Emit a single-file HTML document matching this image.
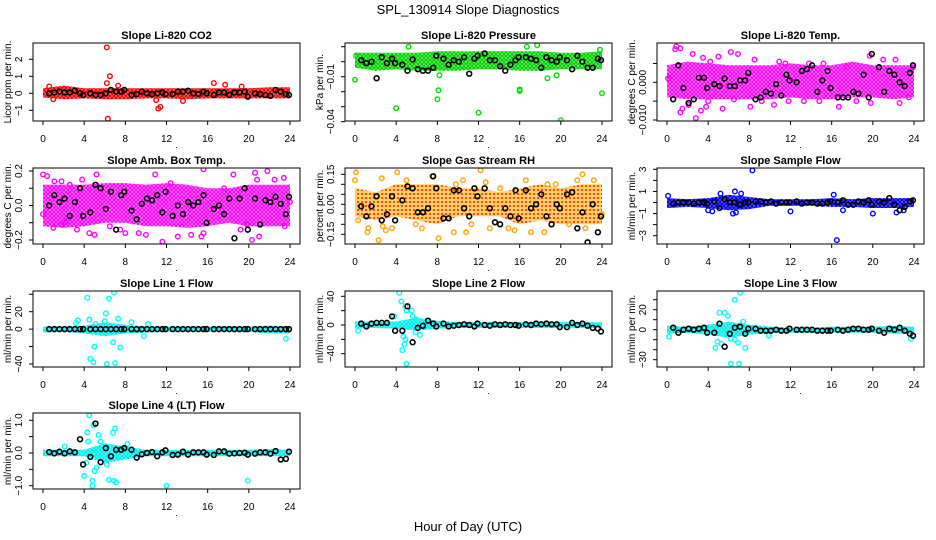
<!DOCTYPE html>
<html><head><meta charset="utf-8">
<style>
html,body{margin:0;padding:0;background:#fff;}
svg{display:block;font-family:"Liberation Sans",Arial,sans-serif;}
</style></head>
<body>
<svg id="chart" width="936" height="540" viewBox="0 0 936 540">
<defs>
<pattern id="pat-red" width="4" height="4" patternUnits="userSpaceOnUse"><rect width="4" height="4" fill="#ff0000" opacity="0.55"/><circle cx="2" cy="2" r="1.5" fill="none" stroke="#ff0000" stroke-width="1.1"/></pattern>
<pattern id="pat-green" width="4" height="4" patternUnits="userSpaceOnUse"><rect width="4" height="4" fill="#00ee00" opacity="0.5"/><circle cx="2" cy="2" r="1.5" fill="none" stroke="#00cc00" stroke-width="1.1"/></pattern>
<pattern id="pat-magenta" width="4" height="4" patternUnits="userSpaceOnUse"><rect width="4" height="4" fill="#ff00ff" opacity="0.35"/><circle cx="2" cy="2" r="1.5" fill="none" stroke="#ff00ff" stroke-width="1.2"/></pattern>
<pattern id="pat-orange" width="4" height="4" patternUnits="userSpaceOnUse"><rect width="4" height="4" fill="#ffb000" opacity="0.6"/><circle cx="2" cy="2" r="1" fill="#ff2000"/></pattern>
<pattern id="pat-blue" width="4" height="4" patternUnits="userSpaceOnUse"><rect width="4" height="4" fill="#0000ff" opacity="0.6"/><circle cx="2" cy="2" r="1.5" fill="none" stroke="#0000ff" stroke-width="1.1"/></pattern>
<pattern id="pat-cyan" width="4" height="4" patternUnits="userSpaceOnUse"><rect width="4" height="4" fill="#00ffff" opacity="0.6"/><circle cx="2" cy="2" r="1.5" fill="none" stroke="#00eeee" stroke-width="1.1"/></pattern>
</defs>
<text x="468" y="14" text-anchor="middle" font-size="13">SPL_130914  Slope Diagnostics</text>
<text x="468" y="531" text-anchor="middle" font-size="13">Hour of Day (UTC)</text>
</svg>
<script>
const xTickVals = [0,4,8,12,16,20,24];
const xTickLabels = ['0','4','8','12','16','20','24'];
const blackHours = [0.6,1.1,1.6,2.1,2.6,3.1,3.6,3.9,4.6,5.1,5.6,6.1,6.6,7.1,7.6,7.9,8.6,9.1,9.6,10.1,10.6,11.1,11.6,11.9,12.6,13.1,13.6,14.1,14.6,15.1,15.6,15.9,16.6,17.1,17.6,18.1,18.6,19.1,19.6,19.9,20.6,21.1,21.6,22.1,22.6,23.1,23.6,23.9];
const bandHours = [0,2,4,6,8,10,12,14,16,18,20,22,24];

const co2Black = [0,0.05,0.1,0.05,0.05,0.15,0,-0.1,0,-0.1,-0.1,0,0.2,0.1,0.1,0.2,-0.1,-0.05,0.1,0,-0.05,0,0.05,-0.05,-0.05,0.1,0.1,0.15,0,-0.05,0.1,0,-0.1,0.05,0.05,-0.1,0.05,0.05,0.1,-0.2,0,-0.05,-0.1,-0.15,0.2,0.1,-0.05,-0.1];
const co2BandLo = [-0.25,-0.35,-0.3,-0.35,-0.35,-0.3,-0.3,-0.35,-0.3,-0.3,-0.3,-0.3,-0.3];
const co2BandHi = [0.3,0.45,0.3,0.3,0.3,0.3,0.3,0.3,0.3,0.3,0.3,0.35,0.35];
const co2OutX = [6.2,6.3,6.5,6.2,7.3,11.2,11.4,11.0,13.6,16.6,17.7,1.0,19.3,0.6];
const co2OutY = [2.7,-1.5,1.0,0.6,0.45,-0.9,-0.8,-0.4,-0.45,0.6,0.5,-0.35,0.4,0.4];

const presBlack = [0.001,-0.001,0,-0.011,0.003,-0.001,0.002,-0.001,-0.002,-0.006,0.0015,-0.005,-0.006,-0.006,-0.004,0.004,0.002,-0.002,0.001,0.0,0.003,-0.008,0.002,0.004,0.0055,0.001,0.001,-0.003,-0.006,-0.002,0.001,0.003,0.003,0.002,0.001,-0.004,0.003,0.001,0.0,0.003,0.001,-0.005,0.004,0.0,-0.004,-0.004,0.002,0.001];
const presBandLo = [-0.004,-0.006,-0.005,-0.006,-0.006,-0.006,-0.005,-0.005,-0.006,-0.006,-0.005,-0.005,-0.005];
const presBandHi = [0.006,0.006,0.006,0.006,0.007,0.007,0.007,0.007,0.007,0.007,0.006,0.006,0.007];
const presOutX = [0,4,5.2,8,8.1,12,16,16,17.7,18.7,20,24,19.6,8.2,0.1,16.7,23.8];
const presOutY = [-0.012,-0.031,0.01,-0.025,-0.019,-0.034,-0.0195,-0.0185,0.011,-0.011,-0.039,-0.021,-0.009,-0.009,0.004,0.01,0.008];

const tempBlack = [-0.0045,0.0045,-0.0015,-0.0055,-0.0045,0.0012,0.0012,-0.0015,-0.0005,-0.001,0.001,-0.001,-0.001,0.0005,0.0005,0.0025,-0.0045,-0.004,-0.0025,-0.003,-0.0005,-0.0035,0.002,0.0005,0.0,0.003,0.0035,0.0045,-0.0025,0.0005,0.003,-0.0015,-0.004,-0.004,-0.004,-0.0025,-0.003,0.002,-0.004,0.0075,0.004,-0.0025,0.003,0.002,0,-0.001,0.0025,0.0045];
const tempBandLo = [-0.004,-0.0045,-0.0045,-0.0045,-0.0045,-0.0045,-0.004,-0.0045,-0.0045,-0.004,-0.004,-0.0045,-0.004];
const tempBandHi = [0.0045,0.0055,0.005,0.0045,0.0045,0.0045,0.005,0.0045,0.0045,0.0055,0.0045,0.0045,0.0045];
const tempOutX = [0.9,0.8,1.3,2.5,3.5,5,6.9,6.2,4.2,1.3,1.5,2.8,3.3,3.8,5.4,4,8.1,9.2,10.4,11.8,13.3,14.8,16.7,18.4,19.8,22.6,19.7,22.2,23.9,11.5,13.8,8.5,15.2,0.1,23.5,10.9,17.5,21,2.1,6.5];
const tempOutY = [0.0095,0.0088,0.009,0.0075,0.0065,0.0068,0.0075,0.008,0.0055,-0.008,-0.007,-0.0095,-0.0075,-0.0065,-0.007,-0.005,-0.0065,-0.005,-0.006,-0.005,-0.005,-0.005,-0.0065,-0.005,-0.0055,-0.0055,0.007,0.006,0.004,0.005,0.005,0.006,0.005,0.001,-0.004,0.0055,0.004,0.006,-0.006,-0.0045];

const ambBlack = [0.0,0.06,0.02,0.04,-0.06,0.02,0.1,-0.06,-0.04,0.12,0.1,-0.02,0.08,-0.14,0.06,0.08,-0.03,-0.08,0.01,0.04,0.03,0.06,-0.04,0.08,-0.06,0.0,-0.05,0.02,0.0,0.02,0.06,-0.1,-0.02,0.0,-0.05,0.04,-0.19,0.04,0.1,-0.14,0.04,-0.11,0.03,0.02,0.05,0.01,-0.05,0.05];
const ambBandLo = [-0.12,-0.13,-0.12,-0.1,-0.1,-0.12,-0.12,-0.13,-0.12,-0.1,-0.12,-0.12,-0.12];
const ambBandHi = [0.12,0.12,0.12,0.13,0.13,0.12,0.13,0.12,0.1,0.1,0.12,0.12,0.12];
const ambOutX = [0,0.4,1.1,1.8,3.8,5.2,2.6,10.9,15.6,18.5,20.6,21.8,22.5,23.4,20.8,17.6,12.4,1,1.8,3.3,4.5,5.0,7.5,8,9.3,10,11.6,13.1,14.4,15.4,15.6,19.2,20.3,21,23.5,19.8,6.5,2.3,0,24];
const ambOutY = [0.18,0.17,0.14,0.14,0.15,0.18,0.12,0.18,0.21,0.18,0.19,0.2,0.15,0.16,0.15,0.1,0.13,-0.13,-0.11,-0.14,-0.16,-0.17,-0.14,-0.16,-0.16,-0.17,-0.21,-0.18,-0.17,-0.18,-0.16,-0.14,-0.2,-0.18,-0.12,-0.11,-0.12,-0.09,-0.05,0.02];

const rhBlack = [-0.01,-0.06,-0.01,0.04,-0.08,-0.05,0.04,-0.08,0.02,0.09,0.08,-0.04,-0.04,-0.02,0.14,0.08,-0.07,-0.07,0.07,0.07,-0.02,-0.06,0.08,0.04,0.08,-0.02,-0.09,-0.1,-0.02,-0.06,0.07,-0.07,0.07,-0.02,0.0,0.05,-0.06,-0.1,0.0,-0.02,0.05,0.06,-0.12,-0.04,-0.19,0.0,-0.14,-0.06];
const rhBandLo = [-0.06,-0.08,-0.06,-0.08,-0.1,-0.06,-0.06,-0.06,-0.1,-0.08,-0.1,-0.1,-0.1];
const rhBandHi = [0.08,0.06,0.1,0.1,0.1,0.08,0.08,0.06,0.08,0.1,0.08,0.1,0.1];
const rhOutX = [0.1,0,2.6,4.1,5.0,7.5,12.2,12.7,22.1,23.2,19.5,18.7,0.3,1.2,1.3,2.7,3.0,3.6,2.3,8.1,9.6,10.8,11.3,13.1,14.9,15.5,17.1,18.4,20.8,22.4,5.9,6.5,16.6,9.8,10.5,14.1,21.6,24];
const rhOutY = [0.16,0.12,0.13,0.16,0.12,0.14,0.17,0.11,0.15,0.12,0.1,0.1,-0.08,-0.14,-0.12,-0.11,-0.13,-0.12,-0.18,-0.17,-0.14,-0.14,-0.1,-0.12,-0.12,-0.13,-0.14,-0.14,-0.1,-0.12,-0.1,-0.12,0.12,0.1,0.12,0.08,0.12,-0.05];

const flowBlack = [-0.1,0,0,0,-0.1,0,0,-0.1,0.1,-0.5,0.3,0,0,-0.2,0,0,0.1,0.1,0,0.1,-0.1,0,0,0,0.1,-0.1,0,0,-0.1,-0.1,0,0.1,0,0.2,-0.2,-0.2,0.1,0,0.2,-0.2,0.1,0,0.4,-0.2,-0.7,-0.4,0.1,0.2];
const flowBandLo = [-0.5,-0.4,-0.5,-0.7,-0.6,-0.3,-0.3,-0.3,-0.4,-0.4,-0.5,-0.5,-0.4];
const flowBandHi = [0.4,0.3,0.4,0.7,0.5,0.3,0.3,0.3,0.4,0.3,0.4,0.4,0.4];
const flowOutX = [8.3,16.5,6.6,7.2,4,4.4,6.4,6.7,12,20,22.3,23,17.1,0.1,5.2,16.2];
const flowOutY = [2.9,-3.4,1.0,0.8,-0.7,-0.8,-1.0,-0.9,-0.8,-1.0,-0.9,-0.7,-0.7,0.6,0.8,0.7];

const l1Black = [0,0,0,0,0,0,0,0,0,0,0,0,0,0,0,0,0,0,0,0,0,0,0,0,0,0,0,0,0,0,0,0,0,0,0,0,0,0,0,0,0,0,0,0,0,0,0,0];
const l1BandLo = [-4,-3,-5,-8,-5,-4,-3,-3,-3,-3,-3,-5,-5];
const l1BandHi = [3,3,4,8,5,3,3,3,3,3,3,4,3];
const l1OutX = [4.3,4.5,5,4.6,4.9,6.1,6.4,6.9,6.2,7,6.8,7.5,7.3,6,5.1,3.4,3.2,23.6,9.8,8.6,10.2];
const l1OutY = [36,11,-20,-34,-38,18,35,42,-40,-39,-15,-21,12,9,6,10,7,-11,-8,8,6];

const l2Black = [2,-2,2,3,3,3,12,-8,-8,26,-24,-4,-1,6,2,-2,2,-2,-1,0,1,0,-2,2,0,-1,1,0,1,0,0,-1,1,0,2,1,2,1,1,-3,-3,3,0,2,-1,-4,-5,-9];
const l2BandLo = [-5,-4,-5,-8,-5,-4,-4,-4,-4,-4,-4,-4,-4];
const l2BandHi = [5,4,5,10,6,4,4,4,4,4,4,4,4];
const l2OutX = [4.3,4.5,4.9,5.0,5.5,4.7,4.9,4.6,4.8,5,5.9,6.3,5.6,5.9,0.3,3.8,5.2];
const l2OutY = [45,33,26,20,20,-16,-20,-35,-27,-54,-10,-14,12,8,-8,12,-2];

const l3Black = [2,-3,0,1,0,1,2,-3,-3,6,-17,-4,2,3,-4,1,1,-1,-1,-1,0,-1,-1,1,0,0,0,0,-1,-1,-1,-1,0,-1,0,1,1,0,0,1,-1,-3,1,0,2,-1,-4,-6];
const l3BandLo = [-4,-3,-5,-8,-5,-3,-3,-3,-3,-3,-3,-4,-4];
const l3BandHi = [4,3,5,8,5,3,2,2,3,3,3,4,3];
const l3OutX = [5.1,5.6,5.9,6.6,7.1,6.2,7.0,4.9,4.7,5.3,6.9,7.6,6.6,0.2,23.7,9.9,7.4,6.2];
const l3OutY = [17,17,14,30,37,-34,-34,-12,-18,-14,-13,-18,-10,-7,-9,-6,8,-9];

const l4Black = [0.03,-0.01,0.04,-0.01,0.05,0.02,0.42,-0.35,-0.12,0.9,-0.28,0.15,-0.1,0.1,0.1,0.15,0.1,-0.14,-0.04,0.0,0.03,-0.1,0.02,0.08,-0.06,-0.05,0.04,-0.05,0.02,0.02,0.02,-0.05,-0.06,0.05,0.05,-0.02,-0.01,0.0,0.01,-0.05,-0.02,0.02,0.02,-0.02,0.06,-0.2,-0.18,0.04];
const l4BandLo = [-0.1,-0.1,-0.1,-0.3,-0.2,-0.1,-0.1,-0.1,-0.1,-0.1,-0.1,-0.1,-0.1];
const l4BandHi = [0.1,0.1,0.1,0.3,0.2,0.1,0.1,0.1,0.1,0.1,0.1,0.12,0.1];
const l4OutX = [4.5,4.9,4.3,4.4,4,4.8,4.8,5,5.2,5.4,5.6,6.8,7.0,6.4,6.9,7.1,12,19.9,6.2,8.2,4.2,2.1];
const l4OutY = [1.15,0.85,0.63,0.35,-0.7,-0.85,-1.0,-0.55,-0.45,0.55,0.35,0.62,0.75,-0.82,-0.85,-0.9,-1.0,-0.85,-0.35,0.28,-0.3,0.2];

const panels = [
 {name:'co2',title:'Slope Li-820 CO2',ylab:'Licor ppm per min.',col:0,row:0,ya:[0,93.3],yb:[2,59.3],ticks:[-1,0,1,2],tickLabels:['\u22121','0','1','2'],color:'#ff0000',pat:'pat-red',black:co2Black,lo:co2BandLo,hi:co2BandHi,ox:co2OutX,oy:co2OutY},
 {name:'pressure',title:'Slope Li-820 Pressure',ylab:'kPa per min.',col:1,row:0,ya:[0,61.7],yb:[-0.01,76.7],ticks:[-0.04,-0.03,-0.02,-0.01,0,0.01],tickLabels:['\u22120.04','','','\u22120.01','',''],color:'#00dd00',pat:'pat-green',black:presBlack,lo:presBandLo,hi:presBandHi,ox:presOutX,oy:presOutY},
 {name:'temp',title:'Slope Li-820 Temp.',ylab:'degrees C per min.',col:2,row:0,ya:[0,82.3],yb:[-0.01,120],ticks:[-0.01,-0.005,0,0.005],tickLabels:['\u22120.010','','0.000',''],color:'#ff00ff',pat:'pat-magenta',black:tempBlack,lo:tempBandLo,hi:tempBandHi,ox:tempOutX,oy:tempOutY},
 {name:'amb-box-temp',title:'Slope Amb. Box Temp.',ylab:'degrees C per min.',col:0,row:1,ya:[0.2,171],yb:[-0.2,240],ticks:[-0.2,-0.1,0,0.1,0.2],tickLabels:['\u22120.2','','0.0','','0.2'],color:'#ff00ff',pat:'pat-magenta',black:ambBlack,lo:ambBandLo,hi:ambBandHi,ox:ambOutX,oy:ambOutY},
 {name:'gas-rh',title:'Slope Gas Stream RH',ylab:'percent per min.',col:1,row:1,ya:[0.15,174.3],yb:[-0.15,234.3],ticks:[-0.15,-0.1,-0.05,0,0.05,0.1,0.15],tickLabels:['\u22120.15','','','0.00','','','0.15'],color:'#ffa500',pat:'pat-orange',black:rhBlack,lo:rhBandLo,hi:rhBandHi,ox:rhOutX,oy:rhOutY},
 {name:'sample-flow',title:'Slope Sample Flow',ylab:'ml/min per min.',col:2,row:1,ya:[3,169.3],yb:[-3,235.7],ticks:[-3,-2,-1,0,1,2,3],tickLabels:['\u22123','','\u22121','','1','','3'],color:'#0000ff',pat:'pat-blue',black:flowBlack,lo:flowBandLo,hi:flowBandHi,ox:flowOutX,oy:flowOutY},
 {name:'line1-flow',title:'Slope Line 1 Flow',ylab:'ml/min per min.',col:0,row:2,ya:[20,311.7],yb:[-40,364],ticks:[-40,-20,0,20,40],tickLabels:['\u221240','','0','20',''],color:'#00ffff',pat:'pat-cyan',black:l1Black,lo:l1BandLo,hi:l1BandHi,ox:l1OutX,oy:l1OutY},
 {name:'line2-flow',title:'Slope Line 2 Flow',ylab:'ml/min per min.',col:1,row:2,ya:[40,296.3],yb:[-40,353.7],ticks:[-40,-20,0,20,40],tickLabels:['\u221240','','0','','40'],color:'#00ffff',pat:'pat-cyan',black:l2Black,lo:l2BandLo,hi:l2BandHi,ox:l2OutX,oy:l2OutY},
 {name:'line3-flow',title:'Slope Line 3 Flow',ylab:'ml/min per min.',col:2,row:2,ya:[20,309.7],yb:[-30,359.7],ticks:[-30,-20,-10,0,10,20,30],tickLabels:['\u221230','','','0','','20',''],color:'#00ffff',pat:'pat-cyan',black:l3Black,lo:l3BandLo,hi:l3BandHi,ox:l3OutX,oy:l3OutY},
 {name:'line4-flow',title:'Slope Line 4 (LT) Flow',ylab:'ml/min per min.',col:0,row:3,ya:[1,420.3],yb:[-1,485.7],ticks:[-1,-0.5,0,0.5,1],tickLabels:['\u22121.0','','0.0','','1.0'],color:'#00ffff',pat:'pat-cyan',black:l4Black,lo:l4BandLo,hi:l4BandHi,ox:l4OutX,oy:l4OutY}
];

const rowTop = [43,168,291,413], rowBot = [121,244,367,489];
const NS = 'http://www.w3.org/2000/svg';
const svg = document.getElementById('chart');
function mk(tag, attrs, parent){ const e=document.createElementNS(NS,tag); for(const k in attrs) e.setAttribute(k,attrs[k]); (parent||svg).appendChild(e); return e; }

panels.forEach(p=>{
  const off = 312*p.col;
  const bx0 = 33+off, bx1 = 300+off, by0 = rowTop[p.row], by1 = rowBot[p.row];
  const xs = h => 43+off + h*(247/24);
  const ys = v => p.ya[1] + (v-p.ya[0])*(p.yb[1]-p.ya[1])/(p.yb[0]-p.ya[0]);
  const g = mk('g',{});
  
  
  const clipId = 'clip-'+p.name;
  const cp = mk('clipPath',{id:clipId},g); mk('rect',{x:bx0,y:by0,width:bx1-bx0,height:by1-by0},cp);
  const plot = mk('g',{'clip-path':'url(#'+clipId+')'},g);
  let pts = bandHours.map((h,i)=>xs(h).toFixed(1)+','+ys(p.hi[i]).toFixed(1));
  for(let i=bandHours.length-1;i>=0;i--) pts.push(xs(bandHours[i]).toFixed(1)+','+ys(p.lo[i]).toFixed(1));
  const band = mk('polygon',{points:pts.join(' '),fill:'url(#'+p.pat+')'},plot);
  
  
  p.ox.forEach((h,i)=>{
    const c = mk('circle',{cx:xs(h),cy:ys(p.oy[i]),r:2.3,fill:'none',stroke:p.color,'stroke-width':1.4},plot);
    
    
  });
  blackHours.forEach((h,i)=>{
    const c = mk('circle',{cx:xs(h),cy:ys(p.black[i]),r:2.4,fill:'none',stroke:'#000','stroke-width':1.6},plot);
    
    
  });
  const box = mk('rect',{x:bx0,y:by0,width:bx1-bx0,height:by1-by0,fill:'none',stroke:'#000','stroke-width':1},g);
  
  
  const t = mk('text',{x:(bx0+bx1)/2,y:by0-4,'text-anchor':'middle','font-size':11,'font-weight':'bold'},g);
  t.textContent = p.title;
  
  
  xTickVals.forEach((v,i)=>{
    mk('line',{x1:xs(v),x2:xs(v),y1:by1,y2:by1+4,stroke:'#000'},g);
    const tl = mk('text',{x:xs(v),y:by1+21,'text-anchor':'middle','font-size':10},g);
    tl.textContent = xTickLabels[i];
    
    
  });
  const dot = mk('text',{x:(bx0+bx1)/2+10,y:by1+27,'text-anchor':'middle','font-size':9},g);
  dot.textContent='.';
  p.ticks.forEach((v,i)=>{
    const yy = ys(v);
    mk('line',{x1:bx0-4,x2:bx0,y1:yy,y2:yy,stroke:'#000'},g);
    if(p.tickLabels[i]){
      const tl = mk('text',{x:bx0-11,y:yy,'text-anchor':'middle','font-size':10,transform:'rotate(-90 '+(bx0-11)+' '+yy+')'},g);
      tl.textContent = p.tickLabels[i];
      
      
    }
  });
  const cy = (by0+by1)/2, lx = bx0-22;
  const yl = mk('text',{x:lx,y:cy,'text-anchor':'middle','font-size':10,transform:'rotate(-90 '+lx+' '+cy+')'},g);
  yl.textContent = p.ylab;
  
  
});
</script>
</body></html>
